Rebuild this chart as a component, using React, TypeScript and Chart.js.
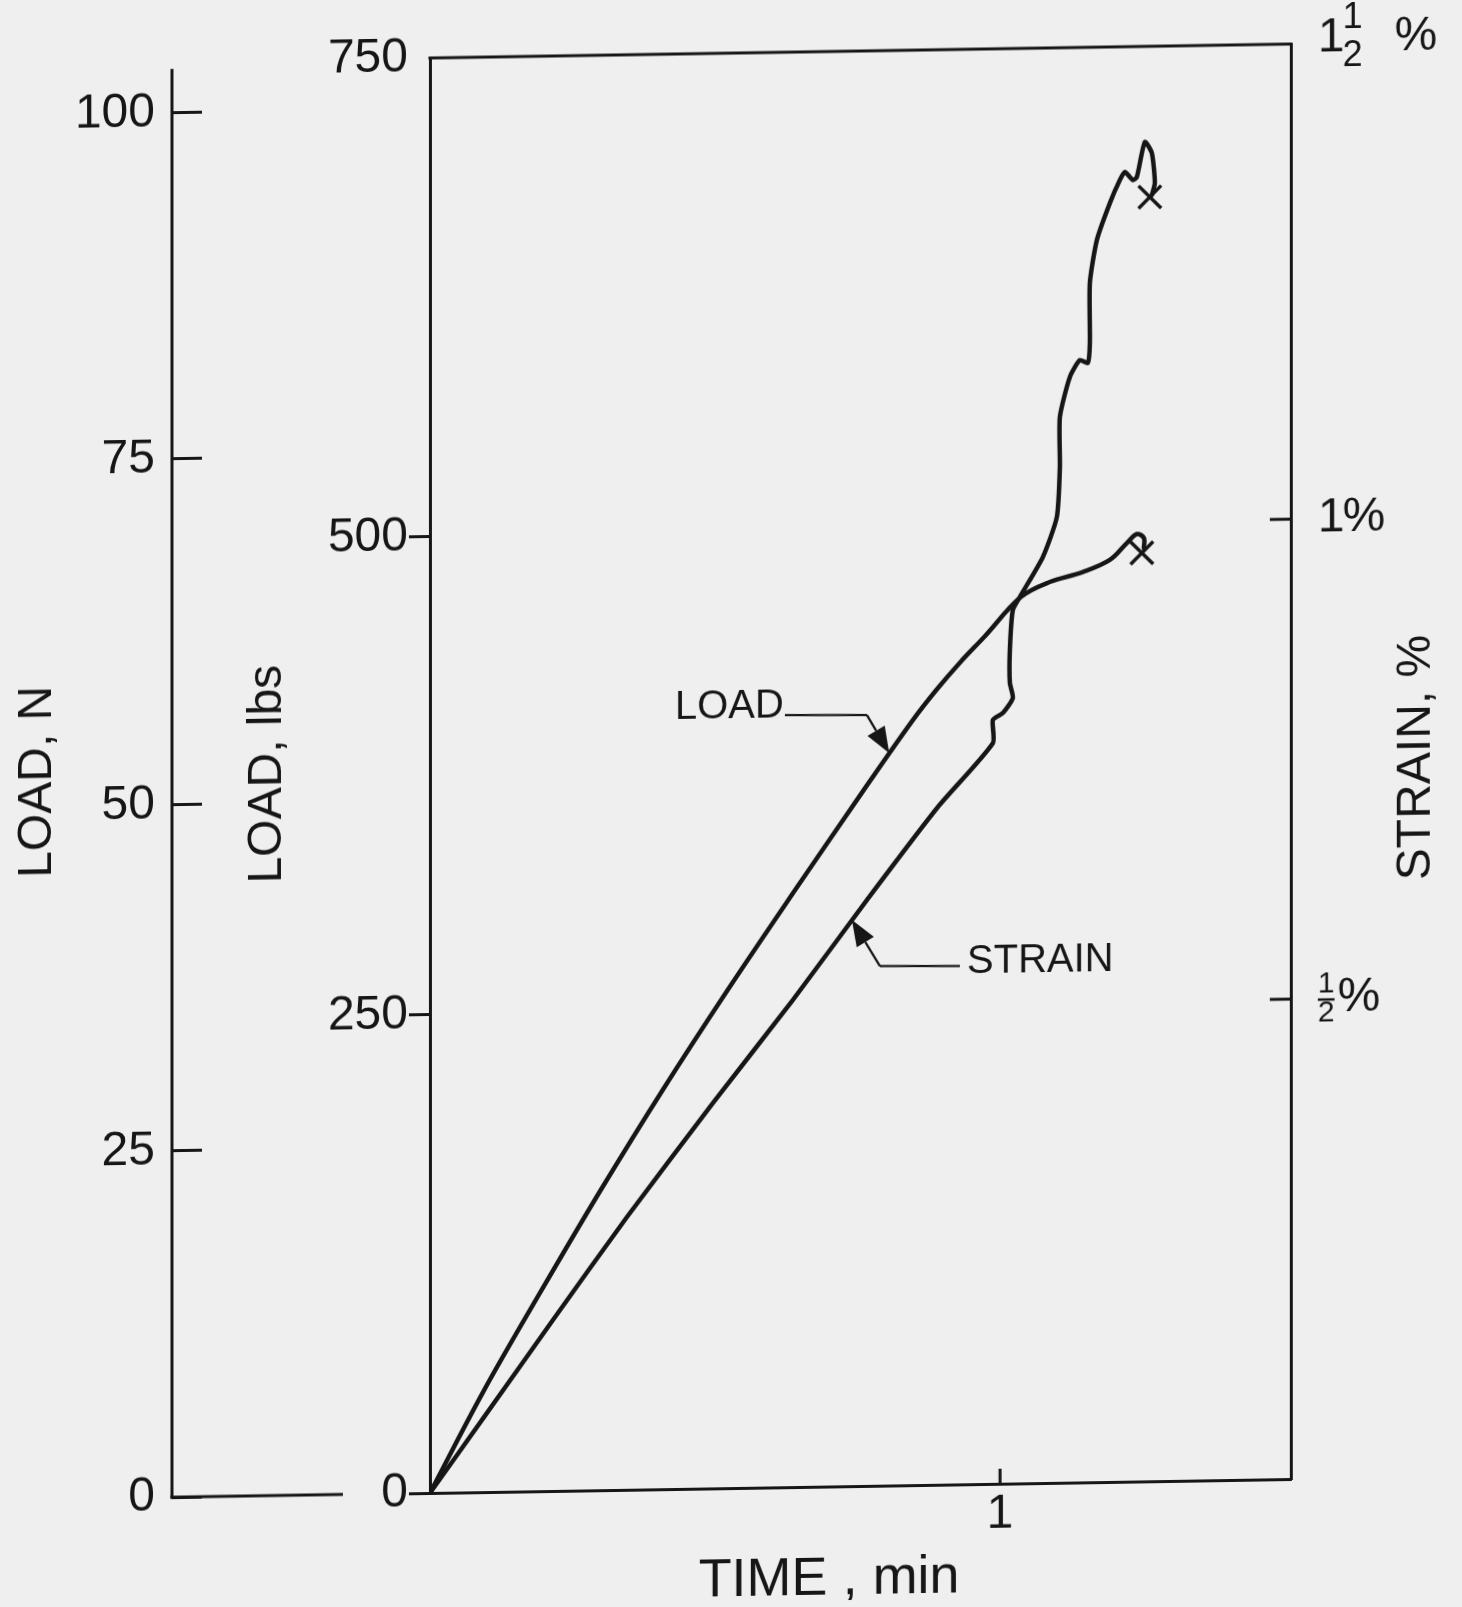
import React, { useEffect, useRef } from 'react';
import { Chart, registerables } from 'chart.js';

Chart.register(...registerables);

// ---------------- data ----------------
// LOAD curve: time (min) vs load (lbs)
const loadTime = [0, 0.0952, 0.1961, 0.2996, 0.4083, 0.5223, 0.6407, 0.7608, 0.8471, 0.8881, 0.9304, 0.9721, 1.0365, 1.0873, 1.1452, 1.1926, 1.2224, 1.2399, 1.2522, 1.2522];
const loadLbs = [0, 53.4, 105.2, 156.9, 208.7, 260.4, 312.1, 363.7, 399.9, 415.4, 429.8, 442.7, 463.3, 470.9, 475.8, 481.9, 490.6, 495.2, 493.1, 487.8];

// STRAIN curve: time (min) vs strain (%)
const strainTime = [0, 0.1, 0.2157, 0.3455, 0.4963, 0.6366, 0.7664, 0.8909, 0.9874, 0.9874, 1.0049, 1.0224, 1.0172, 1.0172, 1.0224, 1.0347, 1.0751, 1.0996, 1.1049, 1.1049, 1.1224, 1.1399, 1.154, 1.1575, 1.1575, 1.1698, 1.1926, 1.2101, 1.2189, 1.2329, 1.2399, 1.2539, 1.2662, 1.2715, 1.2662];
const strainPct = [0, 0.0824, 0.1781, 0.2842, 0.4015, 0.5075, 0.6104, 0.7061, 0.7718, 0.7958, 0.8029, 0.8184, 0.834, 0.8684, 0.91, 0.9235, 0.9647, 1.0062, 1.0582, 1.1103, 1.1518, 1.1693, 1.1661, 1.1869, 1.2494, 1.2941, 1.3324, 1.3562, 1.3644, 1.356, 1.359, 1.3954, 1.3838, 1.3525, 1.34];

// failure marks (X)
const loadBreakTime = [1.2487];
const loadBreakLbs = [485.3];
const strainBreakTime = [1.2627];
const strainBreakPct = [1.338];

// axes
const timeTicks = [1];
const timeTickLabels = ['1'];
const lbsTicks = [0, 250, 500, 750];
const newtonTicks = [0, 25, 50, 75, 100];
const strainTicks = [0.5, 1, 1.5];
const strainTickLabels = ['½%', '1%', '1½ %'];

const TIME_MAX = 1.51;
const LBS_MAX = 750;
const NEWTON_MAX = 103.68;
const NEWTON_SPINE_TOP = 103.2;
const STRAIN_MAX = 1.495;

// annotation anchors in data units (time, lbs)
const loadNoteText = [0.4297, 408.2];
const loadNoteLeader = [[0.6226, 403.6], [0.7664, 402.9], [0.8055, 382.9]];
const strainNoteText = [0.9418, 273.0];
const strainNoteLeader = [[0.9295, 270.9], [0.7892, 271.6], [0.7401, 295.9]];

// ---------------- styles ----------------
const INK = '#161616';
const BG = '#efefef';
const FONT = "'Liberation Sans', Arial, sans-serif";
// the scanned original is slightly sheared (horizontal rules rise to the right)
const SHEAR_DEG = -0.93;

const zip = (xs: number[], ys: number[]) => xs.map((x, i) => ({ x, y: ys[i] }));

function arrowHead(ctx: CanvasRenderingContext2D, fx: number, fy: number, tx: number, ty: number, len: number, half: number) {
  const dx = tx - fx;
  const dy = ty - fy;
  const d = Math.hypot(dx, dy) || 1;
  const ux = dx / d;
  const uy = dy / d;
  const bx = tx - ux * len;
  const by = ty - uy * len;
  ctx.beginPath();
  ctx.moveTo(tx, ty);
  ctx.lineTo(bx - uy * half, by + ux * half);
  ctx.lineTo(bx + uy * half, by - ux * half);
  ctx.closePath();
  ctx.fill();
  return [bx, by];
}

// strain tick label with a stacked fraction, e.g. "1½ %"
function drawStrainLabel(ctx: CanvasRenderingContext2D, x0: number, y: number, v: number) {
  const big = `48px ${FONT}`;
  let x = x0;
  const whole = Math.floor(v + 1e-9);
  const frac = v - whole;
  ctx.textBaseline = 'middle';
  ctx.textAlign = 'left';
  if (whole > 0) {
    ctx.font = big;
    ctx.fillText(String(whole), x, y);
    x += ctx.measureText(String(whole)).width - 2;
  }
  if (frac > 0.01) {
    const mixed = whole > 0;
    ctx.font = `${mixed ? 36 : 30}px ${FONT}`;
    const w = ctx.measureText('2').width;
    ctx.textAlign = 'center';
    ctx.fillText('1', x + w / 2, y + (mixed ? -20 : -14));
    ctx.fillText('2', x + w / 2, y + (mixed ? 18 : 15));
    if (!mixed) {
      ctx.lineWidth = 2.5;
      ctx.beginPath();
      ctx.moveTo(x, y + 1);
      ctx.lineTo(x + w, y + 1);
      ctx.stroke();
    }
    ctx.textAlign = 'left';
    x += w + 3;
    if (mixed) x += 29;
  }
  ctx.font = big;
  ctx.fillText('%', x, y);
}

const decor = {
  id: 'decor',
  beforeDraw(chart: any) {
    const { ctx, width, height } = chart;
    ctx.save();
    ctx.fillStyle = BG;
    ctx.fillRect(0, 0, width, height);
    ctx.restore();
  },
  afterDraw(chart: any) {
    const { ctx, chartArea: ca, scales } = chart;
    const xs = scales.x;
    const yL = scales.yLoad;
    const yS = scales.yStrain;
    const yN = scales.yN;
    const line = (x1: number, y1: number, x2: number, y2: number) => {
      ctx.beginPath();
      ctx.moveTo(x1, y1);
      ctx.lineTo(x2, y2);
      ctx.stroke();
    };
    ctx.save();
    ctx.strokeStyle = INK;
    ctx.fillStyle = INK;
    ctx.lineWidth = 3;

    // top frame
    line(ca.left - 1.5, ca.top, ca.right + 1.5, ca.top);

    // newton axis spine and base line
    const nx = yN.right - 30;
    const n0 = yN.getPixelForValue(0);
    line(nx, n0 + 1.5, nx, yN.getPixelForValue(NEWTON_SPINE_TOP));
    line(nx - 1.5, n0, nx + 171, n0);

    // inward ticks on time axis
    timeTicks.forEach((t) => {
      const px = xs.getPixelForValue(t);
      line(px, ca.bottom, px, ca.bottom - 15);
    });
    // inward ticks on strain axis
    strainTicks.forEach((v) => {
      if (v >= STRAIN_MAX - 0.02) return;
      const py = yS.getPixelForValue(v);
      line(ca.right - 21, py, ca.right, py);
    });

    // strain tick labels (stacked fractions)
    strainTicks.forEach((v) => {
      drawStrainLabel(ctx, ca.right + 27, yS.getPixelForValue(v), v);
    });

    // annotations
    const note = (text: string, at: number[], leader: number[][]) => {
      ctx.font = `40px ${FONT}`;
      ctx.textAlign = 'left';
      ctx.textBaseline = 'middle';
      ctx.fillText(text, xs.getPixelForValue(at[0]), yL.getPixelForValue(at[1]));
      const pts = leader.map((p) => [xs.getPixelForValue(p[0]), yL.getPixelForValue(p[1])]);
      const [a, b, tip] = pts;
      ctx.lineWidth = 2.2;
      const base = arrowHead(ctx, b[0], b[1], tip[0], tip[1], 26, 10);
      line(a[0], a[1], b[0], b[1]);
      line(b[0], b[1], base[0], base[1]);
    };
    note('LOAD', loadNoteText, loadNoteLeader);
    note('STRAIN', strainNoteText, strainNoteLeader);

    // axis titles (vertical ones read bottom-to-top)
    const mid = (ca.top + ca.bottom) / 2;
    const vtitle = (text: string, x: number, y: number) => {
      ctx.save();
      ctx.translate(x, y);
      ctx.rotate(-Math.PI / 2);
      ctx.fillText(text, 0, 0);
      ctx.restore();
    };
    ctx.font = `48px ${FONT}`;
    ctx.textAlign = 'center';
    ctx.textBaseline = 'middle';
    vtitle('LOAD, N', yN.left + 38, mid);
    vtitle('LOAD, lbs', yL.left + 66, mid - 4);
    vtitle('STRAIN, %', ca.right + 126, mid - 2);

    ctx.font = `54px ${FONT}`;
    ctx.fillText('TIME , min', xs.getPixelForValue(0.7), ca.bottom + 93);

    ctx.restore();
  },
};

export default function App() {
  const ref = useRef<HTMLCanvasElement>(null);

  useEffect(() => {
    const canvas = ref.current;
    if (!canvas) return;
    Chart.defaults.font.family = FONT;
    Chart.defaults.color = INK;

    const curve = (label: string, data: any[], axis: string, tension: number) => ({
      label,
      data,
      yAxisID: axis,
      showLine: true,
      borderColor: INK,
      borderWidth: 4.5,
      pointRadius: 0,
      pointHoverRadius: 0,
      tension,
      fill: false,
      borderCapStyle: 'round',
      borderJoinStyle: 'round',
    });
    const mark = (label: string, data: any[], axis: string) => ({
      label,
      data,
      yAxisID: axis,
      showLine: false,
      pointStyle: 'crossRot',
      pointRadius: 16,
      pointHoverRadius: 16,
      pointBorderWidth: 3.5,
      pointBorderColor: INK,
      borderColor: INK,
      borderWidth: 3.5,
      pointBackgroundColor: INK,
    });
    const noPad = (s: any) => {
      s.paddingTop = 0;
      s.paddingBottom = 0;
      s.paddingLeft = 0;
      s.paddingRight = 0;
    };

    const chart = new Chart(canvas, {
      type: 'scatter',
      data: {
        datasets: [
          curve('LOAD', zip(loadTime, loadLbs), 'yLoad', 0.35),
          curve('STRAIN', zip(strainTime, strainPct), 'yStrain', 0.2),
          mark('LOAD failure', zip(loadBreakTime, loadBreakLbs), 'yLoad'),
          mark('STRAIN failure', zip(strainBreakTime, strainBreakPct), 'yStrain'),
        ] as any,
      },
      options: {
        animation: false,
        responsive: false,
        devicePixelRatio: 1,
        events: [],
        layout: { padding: { top: 58, left: 0, right: 0, bottom: 0 } },
        plugins: { legend: { display: false }, tooltip: { enabled: false } },
        scales: {
          x: {
            type: 'linear',
            position: 'bottom',
            min: 0,
            max: TIME_MAX,
            afterBuildTicks: (s: any) => { s.ticks = timeTicks.map((v) => ({ value: v })); },
            ticks: {
              callback: (v: any) => timeTickLabels[timeTicks.indexOf(Number(v))] ?? '',
              font: { size: 48 },
              padding: 2,
              maxRotation: 0,
              color: INK,
            },
            grid: { display: false, drawTicks: false },
            border: { display: true, color: INK, width: 3 },
            afterFit: (s: any) => { s.height = 114; noPad(s); },
          },
          yLoad: {
            type: 'linear',
            position: 'left',
            weight: 0,
            min: 0,
            max: LBS_MAX,
            afterBuildTicks: (s: any) => { s.ticks = lbsTicks.map((v) => ({ value: v })); },
            ticks: { font: { size: 48 }, padding: 1, color: INK },
            grid: {
              display: true,
              drawOnChartArea: false,
              drawTicks: true,
              tickLength: 21,
              lineWidth: 3,
              color: (c: any) => (c.tick && c.tick.value === LBS_MAX ? 'rgba(0,0,0,0)' : INK),
            },
            border: { display: true, color: INK, width: 3 },
            afterFit: (s: any) => { s.width = 228; noPad(s); },
          },
          yN: {
            type: 'linear',
            position: 'left',
            weight: 1,
            min: 0,
            max: NEWTON_MAX,
            afterBuildTicks: (s: any) => { s.ticks = newtonTicks.map((v) => ({ value: v })); },
            ticks: { font: { size: 48 }, padding: 17, color: INK },
            grid: {
              display: true,
              drawOnChartArea: false,
              drawTicks: true,
              tickLength: 30,
              lineWidth: 3,
              color: INK,
            },
            border: { display: false },
            afterFit: (s: any) => { s.width = 202; noPad(s); },
          },
          yStrain: {
            type: 'linear',
            position: 'right',
            min: 0,
            max: STRAIN_MAX,
            afterBuildTicks: (s: any) => { s.ticks = strainTicks.map((v) => ({ value: v })); },
            ticks: {
              display: false,
              callback: (v: any) => strainTickLabels[strainTicks.indexOf(Number(v))] ?? '',
            },
            grid: { display: false, drawTicks: false },
            border: { display: true, color: INK, width: 3 },
            afterFit: (s: any) => { s.width = 171; noPad(s); },
          },
        },
      } as any,
      plugins: [decor as any],
    });

    return () => chart.destroy();
  }, []);

  return (
    <div style={{ position: 'absolute', left: 0, top: 0, width: 1462, height: 1607, background: BG, overflow: 'hidden' }}>
      <canvas
        ref={ref}
        width={1462}
        height={1607}
        style={{ display: 'block', width: 1462, height: 1607, transform: `skewY(${SHEAR_DEG}deg)`, transformOrigin: '430px 0px' }}
      />
    </div>
  );
}
